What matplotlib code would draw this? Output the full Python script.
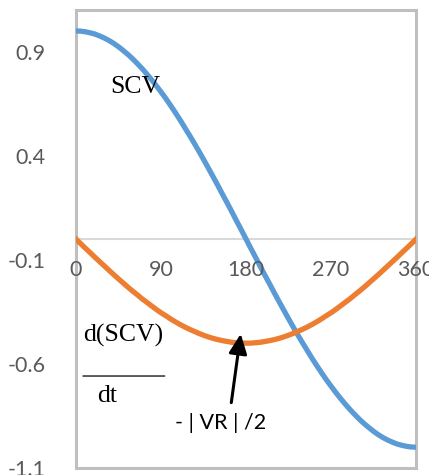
import numpy as np
import matplotlib.pyplot as plt

# angle in degrees (x axis), one reading every 5 degrees
angle = np.arange(0, 361, 5)

# SCV curve
scv = [1.000, 0.999, 0.996, 0.991, 0.985, 0.976, 0.966, 0.954, 0.940, 0.924,
       0.906, 0.887, 0.866, 0.843, 0.819, 0.793, 0.766, 0.737, 0.707, 0.676,
       0.643, 0.609, 0.574, 0.537, 0.500, 0.462, 0.423, 0.383, 0.342, 0.301,
       0.259, 0.216, 0.174, 0.131, 0.087, 0.044, 0.000,
       -0.044, -0.087, -0.131, -0.174, -0.216, -0.259, -0.301, -0.342, -0.383,
       -0.423, -0.462, -0.500, -0.537, -0.574, -0.609, -0.643, -0.676, -0.707,
       -0.737, -0.766, -0.793, -0.819, -0.843, -0.866, -0.887, -0.906, -0.924,
       -0.940, -0.954, -0.966, -0.976, -0.985, -0.991, -0.996, -0.999, -1.000]

# d(SCV)/dt curve
dscv = [0.000, -0.022, -0.044, -0.065, -0.087, -0.108, -0.129, -0.150, -0.171,
        -0.191, -0.211, -0.231, -0.250, -0.268, -0.287, -0.304, -0.321, -0.338,
        -0.354, -0.368, -0.383, -0.397, -0.410, -0.422, -0.433, -0.443, -0.453,
        -0.462, -0.470, -0.477, -0.483, -0.488, -0.492, -0.496, -0.498, -0.500,
        -0.500,
        -0.500, -0.498, -0.496, -0.492, -0.488, -0.483, -0.477, -0.470, -0.462,
        -0.453, -0.443, -0.433, -0.422, -0.410, -0.397, -0.383, -0.368, -0.354,
        -0.338, -0.321, -0.304, -0.287, -0.268, -0.250, -0.231, -0.211, -0.191,
        -0.171, -0.150, -0.129, -0.108, -0.087, -0.065, -0.044, -0.022, 0.000]

x_ticks = [0, 90, 180, 270, 360]
y_ticks = [-1.1, -0.6, -0.1, 0.4, 0.9]

plt.rcParams['font.family'] = 'Lato'

fig = plt.figure(figsize=(4.29, 4.75), dpi=100)
ax = fig.add_axes([0.177, 0.0147, 0.793, 0.964])

ax.plot(angle, scv, color='#5B9BD5', linewidth=3.8, zorder=3)
ax.plot(angle, dscv, color='#ED7D31', linewidth=3.8, zorder=3)

ax.set_xlim(0, 360)
ax.set_ylim(-1.1, 1.1)

# outer box
for s in ax.spines.values():
    s.set_color('#BFBFBF')
    s.set_linewidth(2.2)

ax.set_yticks(y_ticks)
ax.set_yticklabels([str(v) for v in y_ticks])
ax.tick_params(axis='y', length=0, pad=22, labelsize=15.5, labelcolor='#595959')
ax.set_xticks([])

# horizontal axis crossing at zero, labels just under it
ax.axhline(0, color='#D9D9D9', linewidth=1.5, zorder=1)
for xv in x_ticks:
    ax.text(xv, -0.148, str(xv), ha='center', va='center', fontsize=15.5,
            color='#595959', clip_on=False)

serif = 'Liberation Serif'
ax.text(36, 0.70, 'SCV', family=serif, fontsize=18.5, va='baseline')
ax.text(7.4, -0.493, 'd(SCV)', family=serif, fontsize=18.5, va='baseline')
ax.text(22, -0.781, 'dt', family=serif, fontsize=18.5, va='baseline')
ax.annotate('', xy=(94, -0.658), xytext=(7.4, -0.658),
            arrowprops=dict(arrowstyle='-', color='black', lw=0.9, shrinkA=0, shrinkB=0))
ax.text(104.8, -0.884, '- | VR | /2', fontsize=15.5, va='center', color='black')
ax.annotate('', xy=(174.4, -0.455), xytext=(164.4, -0.786),
            arrowprops=dict(arrowstyle='-|>,head_length=1.2,head_width=0.55',
                            color='black', lw=2.2, shrinkA=0, shrinkB=0), zorder=4)

fig.savefig('out.png', dpi=100)
